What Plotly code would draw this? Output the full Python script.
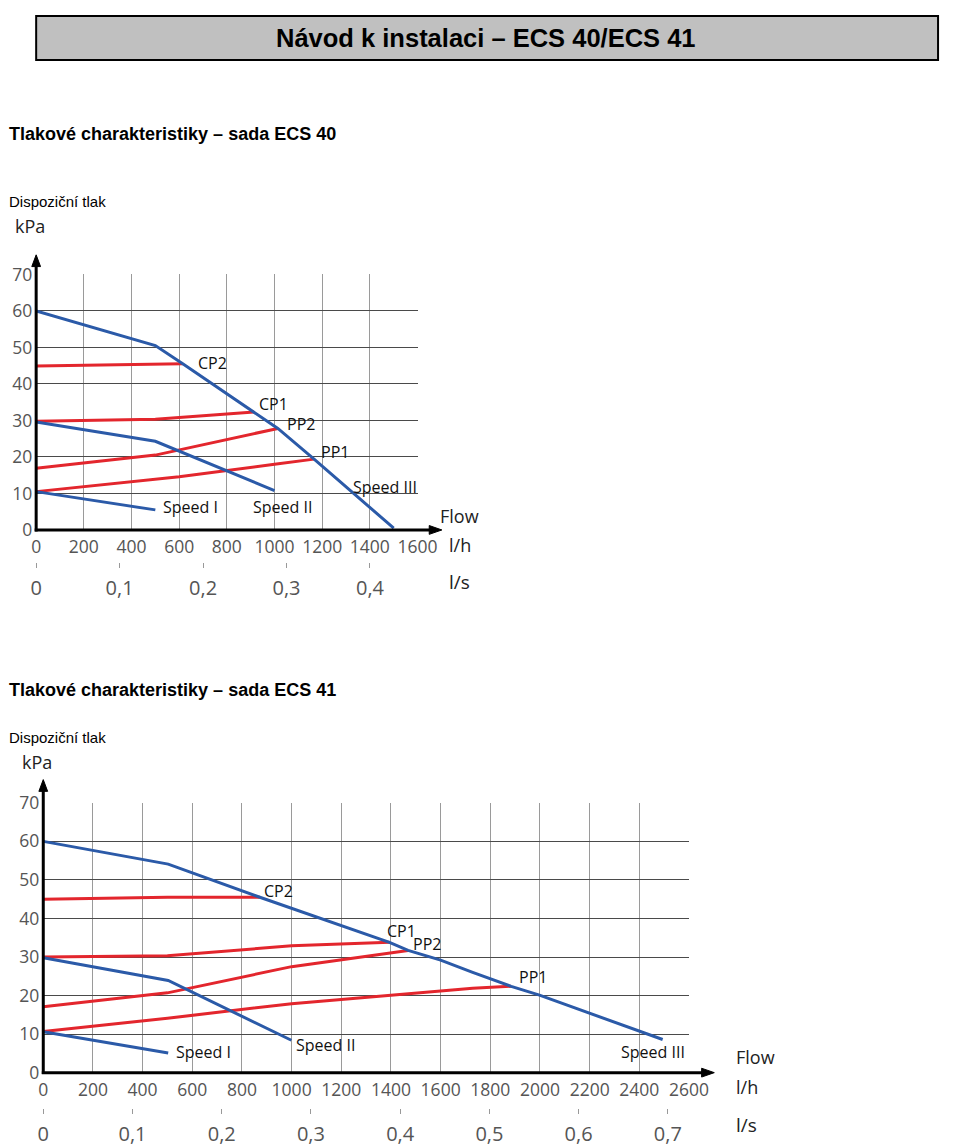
import plotly.graph_objects as go

W, H = 960, 1147

# ---------------- data: ECS 40 ----------------
ecs40_speed3_x = [0, 500, 615, 760, 914, 1014, 1166, 1330, 1500]
ecs40_speed3_y = [60, 50.5, 45.5, 39.0, 32.3, 27.8, 19.4, 10.0, 0.5]
ecs40_speed2_x = [0, 500, 1000]
ecs40_speed2_y = [29.6, 24.3, 10.8]
ecs40_speed1_x = [0, 500]
ecs40_speed1_y = [10.5, 5.5]
ecs40_cp2_x = [0, 500, 615]
ecs40_cp2_y = [44.9, 45.5, 45.5]
ecs40_cp1_x = [0, 500, 914]
ecs40_cp1_y = [29.8, 30.3, 32.3]
ecs40_pp2_x = [0, 500, 1014]
ecs40_pp2_y = [16.9, 20.5, 27.8]
ecs40_pp1_x = [0, 600, 1000, 1166]
ecs40_pp1_y = [10.5, 14.6, 18.0, 19.4]
ecs40_lh_ticks = [0, 200, 400, 600, 800, 1000, 1200, 1400, 1600]
ecs40_ls_ticks = [0, 0.1, 0.2, 0.3, 0.4]
ecs40_ls_text = ["0", "0,1", "0,2", "0,3", "0,4"]
ecs40_labels = [("CP2", 739, 45.8), ("CP1", 996, 34.6), ("PP2", 1110, 29.0),
                ("PP1", 1253, 21.4), ("Speed III", 1465, 11.8),
                ("Speed I", 649, 6.2), ("Speed II", 1033, 6.2)]

# ---------------- data: ECS 41 ----------------
ecs41_speed3_x = [0, 503, 872, 1394, 1469, 1600, 1729, 1884, 1998, 2494]
ecs41_speed3_y = [60, 54.1, 45.5, 33.8, 31.7, 29.2, 26.0, 22.4, 20.1, 8.6]
ecs41_speed2_x = [0, 503, 999]
ecs41_speed2_y = [29.8, 23.9, 8.4]
ecs41_speed1_x = [0, 503]
ecs41_speed1_y = [10.6, 5.1]
ecs41_cp2_x = [0, 500, 872]
ecs41_cp2_y = [45.0, 45.5, 45.5]
ecs41_cp1_x = [0, 500, 1000, 1394]
ecs41_cp1_y = [30.0, 30.3, 32.9, 33.8]
ecs41_pp2_x = [0, 500, 1000, 1469]
ecs41_pp2_y = [17.1, 20.7, 27.5, 31.7]
ecs41_pp1_x = [0, 500, 1000, 1400, 1729, 1884]
ecs41_pp1_y = [10.7, 14.1, 17.9, 20.1, 21.9, 22.4]
ecs41_lh_ticks = [0, 200, 400, 600, 800, 1000, 1200, 1400, 1600, 1800, 2000, 2200, 2400, 2600]
ecs41_ls_ticks = [0, 0.1, 0.2, 0.3, 0.4, 0.5, 0.6, 0.7]
ecs41_ls_text = ["0", "0,1", "0,2", "0,3", "0,4", "0,5", "0,6", "0,7"]
ecs41_labels = [("CP2", 947, 47.0), ("CP1", 1443, 36.8), ("PP2", 1547, 33.5),
                ("PP1", 1972, 24.8), ("Speed III", 2455, 5.3),
                ("Speed I", 646, 5.3), ("Speed II", 1136, 7.2)]

kpa_ticks = [0, 10, 20, 30, 40, 50, 60, 70]

BLUE = "#2b5aa8"
RED = "#e3262d"
FONT_CH = "Open Sans"
FONT_DOC = "Liberation Sans"


def X(px):
    return px / W


def Y(py):
    return 1 - py / H


fig = go.Figure()

def add_lines(xs_ys, xa, ya):
    for xs, ys, col in xs_ys:
        fig.add_trace(go.Scatter(x=xs, y=ys, mode="lines", xaxis=xa, yaxis=ya,
                                 line=dict(color=col, width=3),
                                 showlegend=False, hoverinfo="skip"))

add_lines([
    (ecs40_cp2_x, ecs40_cp2_y, RED), (ecs40_cp1_x, ecs40_cp1_y, RED),
    (ecs40_pp2_x, ecs40_pp2_y, RED), (ecs40_pp1_x, ecs40_pp1_y, RED),
    (ecs40_speed3_x, ecs40_speed3_y, BLUE), (ecs40_speed2_x, ecs40_speed2_y, BLUE),
    (ecs40_speed1_x, ecs40_speed1_y, BLUE)], "x", "y")
add_lines([
    (ecs41_cp2_x, ecs41_cp2_y, RED), (ecs41_cp1_x, ecs41_cp1_y, RED),
    (ecs41_pp2_x, ecs41_pp2_y, RED), (ecs41_pp1_x, ecs41_pp1_y, RED),
    (ecs41_speed3_x, ecs41_speed3_y, BLUE), (ecs41_speed2_x, ecs41_speed2_y, BLUE),
    (ecs41_speed1_x, ecs41_speed1_y, BLUE)], "x2", "y2")

# empty traces so the l/s axes get drawn
fig.add_trace(go.Scatter(x=[], y=[], xaxis="x3", yaxis="y", showlegend=False))
fig.add_trace(go.Scatter(x=[], y=[], xaxis="x4", yaxis="y2", showlegend=False))

# geometry (pixels)
c1 = dict(x0=31, x1=423, y0=528, y1=267, ytip=247, xtip=448, lsy=561)
c2 = dict(x0=38.3, x1=702, y0=1082.3, y1=806.7, ytip=783, xtip=728, lsy=1118)

tickfont = dict(family=FONT_CH, size=17.5, color="#555555")
lsfont = dict(family=FONT_CH, size=20, color="#555555")

def xax(c, ticks, rng):
    return dict(domain=[X(c["x0"]), X(c["x1"])], range=rng, tickvals=ticks,
                showgrid=True, gridcolor="#9a9a9a", gridwidth=1, zeroline=False,
                showline=False, ticks="", tickfont=tickfont, ticklabelstandoff=5,
                fixedrange=True)

def yax(c):
    return dict(domain=[Y(c["y0"]), Y(c["y1"])], range=[0, 70], tickvals=kpa_ticks,
                showgrid=True, gridcolor="#4a4a4a", gridwidth=1, zeroline=False,
                showline=False, ticks="", tickfont=tickfont, ticklabelstandoff=3,
                fixedrange=True)

def lsax(c, over, ticks, text, rng):
    return dict(overlaying=over, anchor="free", position=Y(c["lsy"]), side="bottom",
                range=rng, tickvals=ticks, ticktext=text, showgrid=False,
                zeroline=False, showline=False, ticks="outside", ticklen=5,
                tickcolor="#999999", tickwidth=1, tickfont=lsfont,
                ticklabelstandoff=3, fixedrange=True)

fig.update_layout(
    width=W, height=H, margin=dict(l=0, r=0, t=0, b=0),
    paper_bgcolor="white", plot_bgcolor="white", showlegend=False,
    xaxis=dict(xax(c1, ecs40_lh_ticks, [0, 1600]), anchor="y"),
    yaxis=dict(yax(c1), anchor="x"),
    xaxis2=dict(xax(c2, ecs41_lh_ticks, [0, 2600]), anchor="y2"),
    yaxis2=dict(yax(c2), anchor="x2"),
    xaxis3=lsax(c1, "x", ecs40_ls_ticks, ecs40_ls_text, [0, 0.457]),
    xaxis4=lsax(c2, "x2", ecs41_ls_ticks, ecs41_ls_text, [0, 0.7237]),
)

shapes = []
annotations = []

# header box
shapes.append(dict(type="rect", xref="paper", yref="paper", x0=X(31), x1=X(958),
                   y0=Y(48), y1=Y(3), fillcolor="#c0c0c0",
                   line=dict(color="black", width=2), layer="below"))
annotations.append(dict(text="<b>Návod k instalaci – ECS 40/ECS 41</b>", xref="paper",
                        yref="paper", x=X(493), y=Y(26), showarrow=False,
                        font=dict(family=FONT_DOC, size=25.5, color="black"),
                        xanchor="center", yanchor="middle"))

def doc_text(txt, px, py, size, bold):
    annotations.append(dict(text=f"<b>{txt}</b>" if bold else txt, xref="paper",
                            yref="paper", x=X(px), y=Y(py), showarrow=False,
                            xanchor="left", yanchor="middle",
                            font=dict(family=FONT_DOC, size=size, color="black")))

doc_text("Tlakové charakteristiky – sada ECS 40", 1, 124, 18, True)
doc_text("Dispoziční tlak", 1, 193, 15, False)
doc_text("Tlakové charakteristiky – sada ECS 41", 1, 691, 18, True)
doc_text("Dispoziční tlak", 1, 740, 15, False)

def chart_deco(c, kpa_pos, flow_pos, lh_pos, ls_pos):
    shapes.append(dict(type="line", xref="paper", yref="paper", x0=X(c["x0"]),
                       x1=X(c["x0"]), y0=Y(c["y0"] + 1.5), y1=Y(c["ytip"] + 8),
                       line=dict(color="black", width=3)))
    shapes.append(dict(type="line", xref="paper", yref="paper", x0=X(c["x0"] - 1.5),
                       x1=X(c["xtip"] - 8), y0=Y(c["y0"]), y1=Y(c["y0"]),
                       line=dict(color="black", width=3)))
    shapes.append(dict(type="path", xref="paper", yref="paper", fillcolor="black",
                       line=dict(color="black", width=1),
                       path=f"M {X(c['x0'] - 4.5)} {Y(c['ytip'] + 12)} L {X(c['x0'])} {Y(c['ytip'])} "
                            f"L {X(c['x0'] + 4.5)} {Y(c['ytip'] + 12)} Z"))
    shapes.append(dict(type="path", xref="paper", yref="paper", fillcolor="black",
                       line=dict(color="black", width=1),
                       path=f"M {X(c['xtip'] - 13)} {Y(c['y0'] - 4.5)} L {X(c['xtip'])} {Y(c['y0'])} "
                            f"L {X(c['xtip'] - 13)} {Y(c['y0'] + 4.5)} Z"))
    for txt, (px, py), sz in (("kPa", kpa_pos, 18), ("Flow", flow_pos, 18),
                              ("l/h", lh_pos, 18), ("l/s", ls_pos, 19)):
        annotations.append(dict(text=txt, xref="paper", yref="paper", x=X(px), y=Y(py),
                                showarrow=False, xanchor="left", yanchor="middle",
                                font=dict(family=FONT_CH, size=sz, color="#222222")))

chart_deco(c1, (7, 218), (444, 514), (453, 543), (453, 581))
chart_deco(c2, (14, 765), (748, 1066), (748, 1097), (748, 1136))

for labels, xr, yr in ((ecs40_labels, "x", "y"), (ecs41_labels, "x2", "y2")):
    for txt, lx, ly in labels:
        annotations.append(dict(text=txt, xref=xr, yref=yr, x=lx, y=ly, showarrow=False,
                                xanchor="center", yanchor="middle",
                                font=dict(family=FONT_CH, size=16, color="#111111")))

fig.update_layout(shapes=shapes, annotations=annotations)
fig.write_html("out.html")
